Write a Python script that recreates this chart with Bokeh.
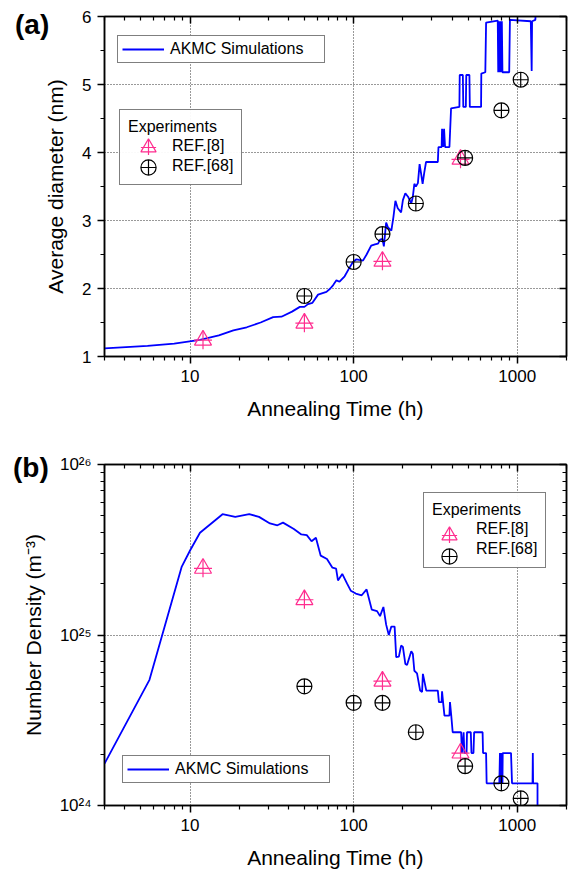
from bokeh.plotting import figure
from bokeh.models import (Legend, LegendItem, LinearAxis, LogAxis, FixedTicker, Div,
                          CustomJSTickFormatter, NumeralTickFormatter)
from bokeh.layouts import column
from bokeh.embed import file_html
from bokeh.resources import INLINE

FONT = "Liberation Sans"
BLUE = "#0000ff"
PINK = "#ff2d8f"

# ---------------- data ----------------
x_major = [10, 100, 1000]
x_minor = [3, 4, 5, 6, 7, 8, 9, 20, 30, 40, 50, 60, 70, 80, 90,
           200, 300, 400, 500, 600, 700, 800, 900, 2000]
ya_major = [1, 2, 3, 4, 5, 6]
ya_minor = [1.5, 2.5, 3.5, 4.5, 5.5]
yb_major = [1e24, 1e25, 1e26]
yb_minor = [2e24, 3e24, 4e24, 5e24, 6e24, 7e24, 8e24, 9e24,
            2e25, 3e25, 4e25, 5e25, 6e25, 7e25, 8e25, 9e25]

# (a) AKMC average diameter (nm) vs annealing time (h)
akmc_a_t = [3, 5.5, 8, 11.5, 15, 18.4, 22.2, 27, 32.2, 36.2, 42, 46.9, 50, 52.6, 56,
            60.6, 68.2, 72, 75, 78.5, 82, 88.1, 94, 99, 104, 108, 114, 120, 128, 135,
            141, 145, 150, 153, 158, 162, 170, 175, 180, 186, 195, 200, 207, 215, 225,
            230, 235, 240, 247, 253, 258, 264, 270, 277, 327, 330, 345, 347, 352, 357,
            362, 385, 394, 443, 445, 465, 468, 485, 488, 510, 513, 540, 601, 603, 638,
            645, 760, 765, 770, 775, 780, 786, 792, 798, 805, 812, 893, 902, 1210, 1225,
            1232, 1290, 1300]
akmc_a_d = [1.12, 1.155, 1.19, 1.245, 1.31, 1.385, 1.43, 1.5, 1.58, 1.585, 1.66, 1.73, 1.73,
            1.77, 1.79, 1.91, 1.95, 2.0, 2.05, 2.12, 2.1, 2.18, 2.3, 2.39, 2.43, 2.42, 2.41,
            2.5, 2.63, 2.65, 2.66, 2.72, 2.73, 2.62, 2.97, 2.9, 2.85, 3.05, 3.29, 3.18, 3.12,
            3.3, 3.4, 3.35, 3.25, 3.35, 3.54, 3.5, 3.55, 3.83, 3.7, 3.54, 3.7, 3.86, 3.86,
            4.08, 4.08, 4.35, 4.08, 4.35, 4.08, 4.08, 4.65, 4.67, 5.14, 5.14, 4.67, 4.67,
            5.14, 5.14, 4.67, 4.67, 4.67, 5.16, 5.18, 5.91, 5.94, 5.18, 5.93, 5.18, 5.93,
            5.18, 5.93, 5.18, 5.93, 5.18, 5.18, 5.95, 5.93, 5.2, 5.93, 5.95, 6.1]

ref8_a_t = [12, 50, 150, 450]
ref8_a_d = [1.24, 1.49, 2.4, 3.9]
ref68_a_t = [50, 100, 150, 240, 480, 800, 1050]
ref68_a_d = [1.89, 2.39, 2.8, 3.25, 3.92, 4.62, 5.07]

# (b) AKMC number density (m^-3) vs annealing time (h)
akmc_b_t = [3, 5.65, 8.9, 10, 11.5, 15.8, 18.9, 23, 26.4, 30.8, 34.2, 37, 43.1, 47.9, 51.7,
            55.3, 58.8, 62.9, 68.7, 74.2, 78.1, 80.2, 85.2, 91.2, 96, 103, 112, 120, 129,
            139, 145, 152, 158, 164, 170, 178, 182, 189, 195, 200, 207, 212, 225, 230, 235,
            244, 255, 262, 265, 278, 327, 332, 345, 347, 352, 359, 385, 388, 395, 403, 454,
            459, 470, 475, 490, 493, 520, 525, 540, 545, 614, 618, 645, 650, 777, 784, 788,
            792, 796, 800, 804, 808, 812, 815, 916, 929, 1240, 1245, 1250, 1330, 1330]
akmc_b_n = [1.76e24, 5.46e24, 2.52e25, 3.13e25, 3.98e25, 5.11e25, 4.93e25, 5.11e25, 4.93e25,
            4.51e25, 4.40e25, 4.56e25, 4.19e25, 3.89e25, 3.85e25, 3.55e25, 3.72e25, 2.92e25,
            2.79e25, 2.48e25, 2.45e25, 2.09e25, 2.28e25, 2.00e25, 1.82e25, 1.75e25, 1.71e25,
            1.85e25, 1.41e25, 1.38e25, 1.29e25, 1.46e25, 1.15e25, 1.00e25, 1.12e25, 1.12e25,
            7.41e24, 7.46e24, 8.67e24, 8.51e24, 6.76e24, 6.67e24, 8.04e24, 7.76e24, 6.17e24,
            5.96e24, 4.72e24, 4.63e24, 5.92e24, 4.72e24, 4.72e24, 4.04e24, 4.04e24, 4.68e24,
            4.04e24, 3.37e24, 3.37e24, 4.04e24, 3.37e24, 2.69e24, 2.69e24, 2.03e24, 2.69e24,
            2.03e24, 2.03e24, 2.69e24, 2.69e24, 2.03e24, 2.03e24, 2.69e24, 2.69e24, 2.03e24,
            2.03e24, 1.35e24, 1.35e24, 2.03e24, 1.35e24, 2.03e24, 1.35e24, 2.03e24, 1.35e24,
            2.03e24, 1.35e24, 2.03e24, 2.03e24, 1.35e24, 1.35e24, 2.03e24, 1.35e24, 1.35e24,
            7.9e23]

ref8_b_t = [12, 50, 150, 450]
ref8_b_n = [2.46e25, 1.61e25, 5.36e24, 2.03e24]
ref68_b_t = [50, 100, 150, 240, 480, 800, 1050]
ref68_b_n = [5.0e24, 4.0e24, 4.0e24, 2.69e24, 1.70e24, 1.35e24, 1.10e24]


def style_axis(ax, mirror=False):
    ax.axis_line_width = 1.5
    ax.axis_line_color = "black"
    ax.major_tick_line_width = 1.5
    ax.minor_tick_line_width = 1.2
    ax.major_tick_line_color = "black"
    ax.minor_tick_line_color = "black"
    ax.major_label_text_font = FONT
    ax.major_label_text_color = "black"
    ax.axis_label_text_font = FONT
    ax.axis_label_text_font_size = "21px"
    ax.axis_label_text_font_style = "normal"
    ax.axis_label_text_color = "black"
    if mirror:
        ax.major_tick_in = 7
        ax.major_tick_out = 0
        ax.minor_tick_in = 4
        ax.minor_tick_out = 0
        ax.major_label_text_font_size = "0px"
        ax.major_label_standoff = 0
        ax.formatter = CustomJSTickFormatter(code="return ''")
    else:
        ax.major_tick_in = 0
        ax.major_tick_out = 7
        ax.minor_tick_in = 0
        ax.minor_tick_out = 4
        ax.major_label_text_font_size = "17px"
        ax.major_label_standoff = 6
        ax.axis_label_standoff = 12


def make_fig(y_type, y_range, top_border, bottom_border, fh):
    p = figure(x_axis_type="log", y_axis_type=y_type, x_range=(3, 2000), y_range=y_range,
               frame_width=462, frame_height=fh,
               min_border_left=104, min_border_right=7,
               min_border_top=top_border, min_border_bottom=bottom_border,
               output_backend="svg", toolbar_location=None)
    p.outline_line_color = "black"
    p.outline_line_width = 1.5
    p.background_fill_color = "white"
    p.border_fill_color = "white"
    for g in (p.xgrid[0], p.ygrid[0]):
        g.grid_line_color = "#333333"
        g.grid_line_dash = "1 2"
        g.grid_line_width = 1
    return p


def akmc_legend(r, loc):
    return Legend(items=[LegendItem(label="AKMC Simulations", renderers=[r])], location=loc,
                  label_text_font=FONT, label_text_font_size="16px", label_text_color="black",
                  glyph_width=42, glyph_height=16, label_height=16, label_standoff=6,
                  label_width=150, padding=4, margin=0, spacing=0,
                  border_line_color="black", border_line_width=1)


def exp_legend(dummy_tri, dummy_cc, loc):
    # box, title and labels; the markers are drawn by marker_legend() on top
    return Legend(items=[LegendItem(label="REF.[8]", renderers=[dummy_tri]),
                         LegendItem(label="REF.[68]", renderers=[dummy_cc])],
                  location=loc, title="Experiments",
                  title_text_font=FONT, title_text_font_size="16px",
                  title_text_font_style="normal", title_text_color="black",
                  label_text_font=FONT, label_text_font_size="16px", label_text_color="black",
                  glyph_width=38, glyph_height=20, label_height=20, label_standoff=6,
                  spacing=0, padding=8, title_standoff=-1, margin=0,
                  border_line_color="black", border_line_width=1)


def marker_legend(renderers, loc):
    return Legend(items=[LegendItem(label=" ", renderers=renderers)], location=loc,
                  glyph_width=38, glyph_height=38, label_width=0, label_height=0,
                  label_standoff=0, label_text_font_size="1px",
                  padding=0, margin=0, spacing=0,
                  border_line_alpha=0, background_fill_alpha=0)


def add_markers(p, t8, v8, t68, v68):
    tri = p.scatter(t8, v8, marker="triangle", size=17, fill_color=None,
                    line_color=PINK, line_width=1.2)
    crs = p.scatter(t8, v8, marker="cross", size=18, line_color=PINK, line_width=1.2)
    cc = p.scatter(t68, v68, marker="circle_cross", size=15, fill_color=None,
                   line_color="black", line_width=1.2)
    d_tri = p.scatter([], [], marker="triangle", fill_alpha=0, line_alpha=0)
    d_cc = p.scatter([], [], marker="circle_cross", fill_alpha=0, line_alpha=0)
    return tri, crs, cc, d_tri, d_cc


def panel_tag(text, left, top):
    return Div(text=text, width=45, height=32,
               styles={"position": "absolute", "left": f"{left}px", "top": f"{top}px",
                       "margin": "0", "padding": "0", "z-index": "10",
                       "font-family": FONT, "font-size": "28px", "font-weight": "bold",
                       "line-height": "32px", "color": "black", "white-space": "nowrap"})


xt = FixedTicker(ticks=x_major, minor_ticks=x_minor)

# ---------------- panel (a) ----------------
pa = make_fig("linear", (1, 6), 16, 74, 340)
yta = FixedTicker(ticks=ya_major, minor_ticks=ya_minor)
pa.xaxis[0].ticker = xt
pa.xaxis[0].formatter = NumeralTickFormatter(format="0")
pa.yaxis[0].ticker = yta
pa.xgrid[0].ticker = FixedTicker(ticks=x_major)
pa.ygrid[0].ticker = FixedTicker(ticks=ya_major)
pa.xaxis[0].axis_label = "Annealing Time (h)"
pa.yaxis[0].axis_label = "Average diameter (nm)"
style_axis(pa.xaxis[0])
style_axis(pa.yaxis[0])
top_a = LogAxis(ticker=xt)
style_axis(top_a, mirror=True)
pa.add_layout(top_a, "above")
right_a = LinearAxis(ticker=yta)
style_axis(right_a, mirror=True)
pa.add_layout(right_a, "right")

akmc_a = pa.line(akmc_a_t, akmc_a_d, line_color=BLUE, line_width=1.8)
tri_a, crs_a, cc_a, dt_a, dc_a = add_markers(pa, ref8_a_t, ref8_a_d, ref68_a_t, ref68_a_d)

pa.add_layout(akmc_legend(akmc_a, (13, 293)))
pa.add_layout(exp_legend(dt_a, dc_a, (15, 171)))
pa.add_layout(marker_legend([tri_a, crs_a], (25, 190)))
pa.add_layout(marker_legend([cc_a], (25, 170)))

# ---------------- panel (b) ----------------
pb = make_fig("log", (1e24, 1e26), 34, 66, 341)
ytb = FixedTicker(ticks=yb_major, minor_ticks=yb_minor)
pb.xaxis[0].ticker = xt
pb.xaxis[0].formatter = NumeralTickFormatter(format="0")
pb.yaxis[0].ticker = ytb
pb.yaxis[0].formatter = CustomJSTickFormatter(code="""
const sup = {'0':'\u2070','1':'\u00b9','2':'\u00b2','3':'\u00b3','4':'\u2074','5':'\u2075','6':'\u2076','7':'\u2077','8':'\u2078','9':'\u2079'};
const e = String(Math.round(Math.log10(tick)));
return '10' + e.split('').map(c => sup[c]).join('');
""")
pb.xgrid[0].ticker = FixedTicker(ticks=x_major)
pb.ygrid[0].ticker = FixedTicker(ticks=yb_major)
pb.xaxis[0].axis_label = "Annealing Time (h)"
pb.yaxis[0].axis_label = "Number Density (m\u207b\u00b3)"
style_axis(pb.xaxis[0])
style_axis(pb.yaxis[0])
top_b = LogAxis(ticker=xt)
style_axis(top_b, mirror=True)
pb.add_layout(top_b, "above")
right_b = LogAxis(ticker=ytb)
style_axis(right_b, mirror=True)
pb.add_layout(right_b, "right")

akmc_b = pb.line(akmc_b_t, akmc_b_n, line_color=BLUE, line_width=1.8)
tri_b, crs_b, cc_b, dt_b, dc_b = add_markers(pb, ref8_b_t, ref8_b_n, ref68_b_t, ref68_b_n)

pb.add_layout(exp_legend(dt_b, dc_b, (319, 237)))
pb.add_layout(marker_legend([tri_b, crs_b], (326, 251)))
pb.add_layout(marker_legend([cc_b], (326, 230)))
pb.add_layout(akmc_legend(akmc_b, (18, 22)))

layout = column(pa, pb, panel_tag("(a)", 15, 9), panel_tag("(b)", 13, 452), spacing=0)
open("out.html", "w").write(file_html(layout, INLINE))
